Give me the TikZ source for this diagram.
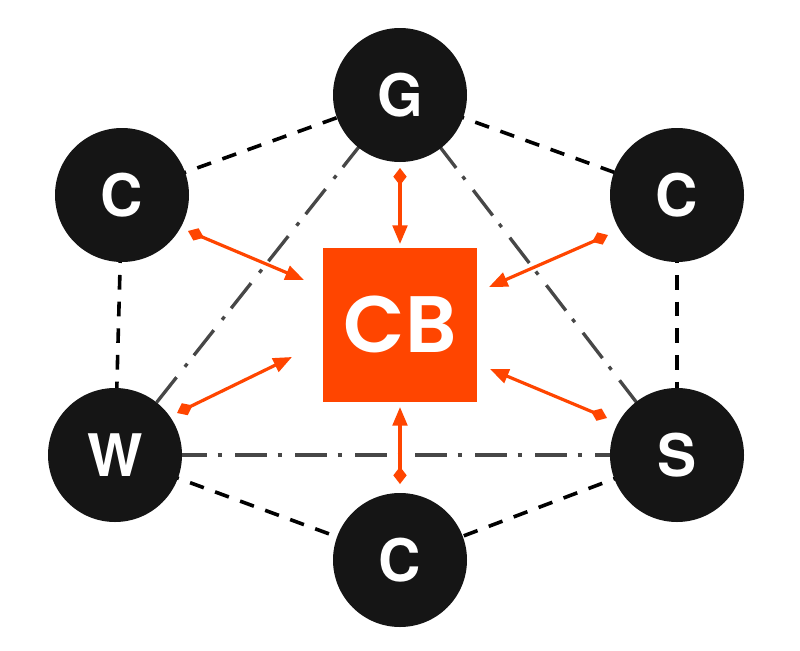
\documentclass[tikz,border=0pt]{standalone}
\usepackage{fontspec}
\setmainfont{Poppins}
\newfontfamily\hubfont{TeX Gyre Heros}
\newfontfamily\cbfont{Poppins SemiBold}
\usetikzlibrary{arrows.meta}
\definecolor{nodeblack}{HTML}{151515}
\definecolor{cborange}{HTML}{FF4500}
\definecolor{dgray}{HTML}{474747}
\begin{document}
\begin{tikzpicture}[x=0.75pt,y=-0.75pt,
  hub/.style={circle,fill=nodeblack,minimum size=134*0.75pt,inner sep=0pt,text=white,font=\hubfont\fontsize{44}{48}\selectfont\bfseries},
  core/.style={rectangle,fill=cborange,minimum size=154*0.75pt,inner sep=0pt,text=white,font=\cbfont\fontsize{60}{64}\selectfont},
  ring/.style={black,line width=2.7pt,dash pattern=on 11pt off 9pt},
  cross/.style={dgray,line width=2.5pt,dash pattern=on 24pt off 8pt on 3pt off 10pt},
  link/.style={cborange,line width=2.4pt,{Diamond[length=13pt,width=10pt]}-{Triangle[length=14pt,width=11pt]}}
]
\useasboundingbox (0,0) rectangle (800,650);
\node[core] (CB) at (400,324.5) {CB};
\coordinate (pG) at (400,95);
\coordinate (pTL) at (122,195);
\coordinate (pTR) at (677,195);
\coordinate (pW) at (115,455);
\coordinate (pS) at (677,455);
\coordinate (pB) at (400,560);
\draw[ring] (pTL) -- (pG);
\draw[ring] (pG) -- (pTR);
\draw[ring] (pTL) -- (pW);
\draw[ring] (pTR) -- (pS);
\draw[ring] (pW) -- (pB);
\draw[ring] (pS) -- (pB);
\draw[cross] (pG) -- (pW);
\draw[cross] (pG) -- (pS);
\draw[cross] (pW) -- (pS);
\node[hub] (G) at (pG) {G};
\node[hub] (CTL) at (pTL) {C};
\node[hub] (CTR) at (pTR) {C};
\node[hub] (W) at (pW) {W};
\node[hub] (S) at (pS) {S};
\node[hub] (CB2) at (pB) {C};
\coordinate (aTLs) at (188,231);
\coordinate (aTLe) at (304,280);
\coordinate (aGs) at (400,168);
\coordinate (aGe) at (400,244);
\coordinate (aBs) at (400,484);
\coordinate (aBe) at (400,407);
\coordinate (aTRs) at (608,235);
\coordinate (aTRe) at (489,287);
\coordinate (aWs) at (177,413);
\coordinate (aWe) at (292,357);
\coordinate (aSs) at (607,418);
\coordinate (aSe) at (490,369);
\draw[link] (aTLs) -- (aTLe);
\draw[link] (aGs) -- (aGe);
\draw[link] (aBs) -- (aBe);
\draw[link] (aTRs) -- (aTRe);
\draw[link] (aWs) -- (aWe);
\draw[link] (aSs) -- (aSe);
\end{tikzpicture}
\end{document}
